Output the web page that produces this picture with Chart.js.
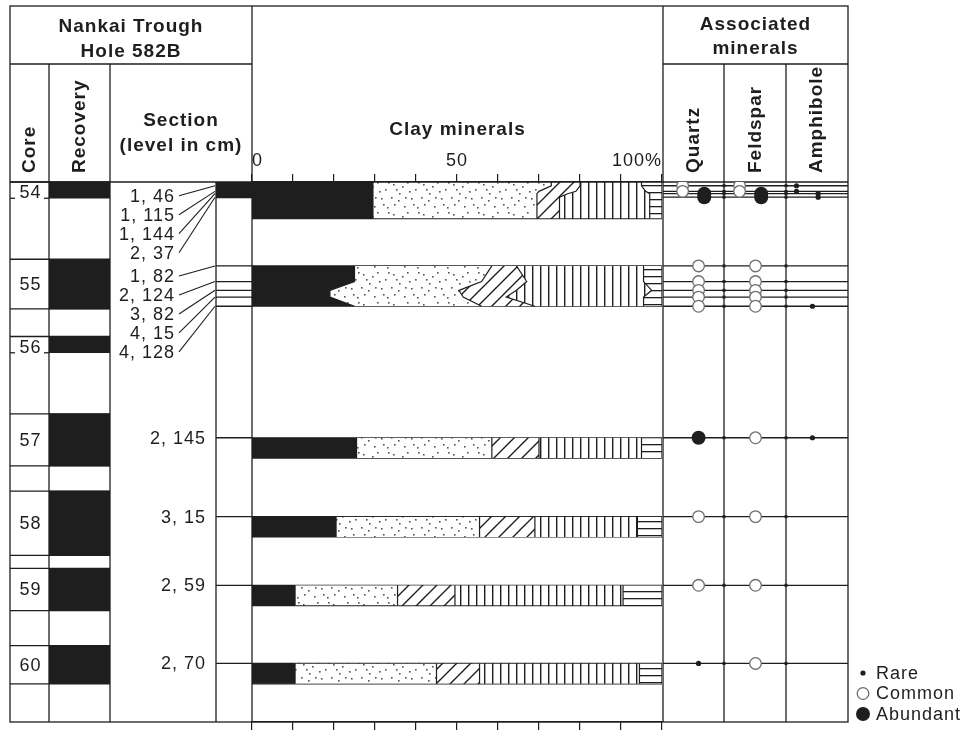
<!DOCTYPE html>
<html>
<head>
<meta charset="utf-8">
<title>Nankai Trough Hole 582B clay minerals</title>
<script src="https://cdn.jsdelivr.net/npm/chart.js@4.4.1/dist/chart.umd.min.js"></script>
<style>
  html, body { margin: 0; padding: 0; background: #fff; }
  #sheet { position: relative; width: 968px; height: 730px; }
  #sheet canvas { position: absolute; top: 0; }
</style>
</head>
<body>
<div id="sheet">
  <canvas id="clayChart" width="968" height="730" style="left:0"></canvas>
  <canvas id="recoveryChart" width="61" height="730" style="left:49px"></canvas>
  <canvas id="mineralChart" width="185" height="730" style="left:663px"></canvas>
</div>
<script>
// cores and recovered length (m)
const CORES = [54, 55, 56, 57, 58, 59, 60];
const RECOVERY_M = [2.0, 6.1, 2.0, 6.4, 7.9, 5.2, 4.7];

// samples: core, section, level in cm
const SAMPLE_CORE = [54, 54, 54, 54, 55, 55, 55, 55, 55, 57, 58, 59, 60];
const SAMPLE_SECTION = [1, 1, 1, 2, 1, 2, 3, 4, 4, 2, 3, 2, 2];
const SAMPLE_CM = [46, 115, 144, 37, 82, 124, 82, 15, 128, 145, 15, 59, 70];

// clay minerals (%), in drawing order left to right
const SOLID = [29.5, 29.5, 29.5, 29.5, 25, 25, 19, 19, 25, 25.5, 20.5, 10.5, 10.5];
const STIPPLED = [43.5, 40.5, 40, 40, 33.5, 31, 31.5, 32.5, 31, 33, 35, 25, 34.5];
const DIAGONAL = [7, 9, 7.5, 5.5, 6, 11, 14, 10.5, 13, 11.5, 13.5, 14, 10.5];
const VERTICAL = [15, 17, 20, 22, 31, 28.5, 33, 33.5, 26.5, 25, 25, 41, 39];
const HORIZONTAL = [5, 4, 3, 3, 4.5, 4.5, 2.5, 4.5, 4.5, 5, 6, 9.5, 5.5];

// associated minerals
const QUARTZ = ['common', 'common', 'abundant', 'abundant', 'common', 'common', 'common', 'common', 'common', 'abundant', 'common', 'common', 'rare'];
const FELDSPAR = ['common', 'common', 'abundant', 'abundant', 'common', 'common', 'common', 'common', 'common', 'common', 'common', 'common', 'common'];
const AMPHIBOLE = ['rare', 'rare', 'rare', 'rare', null, null, null, null, 'rare', 'rare', null, null, null];

const MINERAL_NAMES = ['Quartz', 'Feldspar', 'Amphibole'];
const CLASSES = ['rare', 'common', 'abundant'];
const CLASS_LABELS = ['Rare', 'Common', 'Abundant'];
const CLAY_TICKS = [0, 50, 100];
const CLAY_LABELS = ['0', '50', '100%'];

// layout
const INK = '#1e1e1e';
const FONT = "'Liberation Sans', Arial, Helvetica, sans-serif";
const X_LEFT = 10, X_CORE = 49, X_REC = 110, X_LEVEL = 216, X_CLAY = 252, X_MIN = 663, X_FELD = 724, X_AMPH = 786, X_RIGHT = 848;
const Y_TOP = 6, Y_HEAD = 64, Y_BODY = 182, Y_BOTTOM = 722;
const CORE_LENGTH = 9.5, SECTION_LENGTH = 1.5, DEPTH_MAX = 66.4;
const BAR_M = 2.5, BAND_MIN_M = 4.5, DENSE_GAP_M = 0.75;

Chart.defaults.font.family = FONT;
Chart.defaults.color = INK;

const coreTop = c => (c - CORES[0]) * CORE_LENGTH;
const depth = i => coreTop(SAMPLE_CORE[i]) + (SAMPLE_SECTION[i] - 1) * SECTION_LENGTH + SAMPLE_CM[i] / 100;

// samples grouped by core; a densely sampled core stands for its whole recovered interval
const groups = [];
SAMPLE_CORE.forEach((c, i) => {
  let g = groups.find(g => g.core === c);
  if (!g) groups.push(g = { core: c, idx: [] });
  g.idx.push(i);
});
groups.forEach(g => {
  g.dense = g.idx.length > 1 && g.idx.every((i, j) => j === 0 || depth(i) - depth(g.idx[j - 1]) < DENSE_GAP_M);
  g.top = g.dense ? coreTop(g.core) : depth(g.idx[0]);
  const last = depth(g.idx[g.idx.length - 1]);
  g.bottom = g.idx.length > 1 ? Math.max(last, g.top + BAND_MIN_M) : g.top + BAR_M;
});

// fill patterns
function makePattern(w, h, draw) {
  const c = document.createElement('canvas');
  c.width = w; c.height = h;
  const g = c.getContext('2d');
  g.fillStyle = '#fff';
  g.fillRect(0, 0, w, h);
  g.fillStyle = INK; g.strokeStyle = INK;
  draw(g, w, h);
  return g.createPattern(c, 'repeat');
}
const stipple = makePattern(30, 30, g => {
  g.fillStyle = '#555';
  [[3, 4], [17, 2], [25, 9], [9, 13], [21, 18], [4, 24], [14, 26], [27, 27], [12, 6], [1, 17],
   [8, 20], [19, 11], [28, 2], [23, 24], [15, 17], [6, 9]]
    .forEach(([x, y]) => g.fillRect(x, y, 1.6, 1.6));
});
const diagonal = makePattern(14, 14, (g, w, h) => {
  g.lineWidth = 1.4;
  g.beginPath();
  g.moveTo(0, h); g.lineTo(w, 0);
  g.moveTo(-w / 2, h / 2); g.lineTo(w / 2, -h / 2);
  g.moveTo(w / 2, h * 1.5); g.lineTo(w * 1.5, h / 2);
  g.stroke();
});
const vertical = makePattern(8, 8, g => g.fillRect(4, 0, 1.4, 8));
const horizontal = makePattern(8, 7, g => g.fillRect(0, 3, 8, 1.3));

const SERIES = [SOLID, STIPPLED, DIAGONAL, VERTICAL, HORIZONTAL];
const FILLS = [INK, stipple, diagonal, vertical, horizontal];
const cum = (i, k) => SERIES.slice(0, k).reduce((s, a) => s + a[i], 0);

function boundary(k) {
  const pts = [];
  groups.forEach(g => {
    const first = g.idx[0], last = g.idx[g.idx.length - 1];
    if (g.top < depth(first) - 0.01) pts.push({ x: cum(first, k), y: g.top });
    g.idx.forEach(i => pts.push({ x: cum(i, k), y: depth(i) }));
    if (g.bottom > depth(last) + 0.01) pts.push({ x: cum(last, k), y: g.bottom });
    pts.push({ x: null, y: g.bottom });
  });
  return pts;
}
function edges() {
  const pts = [];
  groups.forEach(g => {
    [g.top, g.bottom].forEach(d => {
      pts.push({ x: 0, y: d }, { x: 100, y: d }, { x: null, y: d });
    });
  });
  return pts;
}

const clayDatasets = [{ label: 'base', data: boundary(0), fill: false }];
SERIES.forEach((s, k) => clayDatasets.push({
  label: 'clay ' + (k + 1), data: boundary(k + 1), fill: '-1', backgroundColor: FILLS[k]
}));
clayDatasets.push({ label: 'edges', data: edges(), fill: false });

function seg(ctx, x1, y1, x2, y2) {
  ctx.beginPath(); ctx.moveTo(x1, y1); ctx.lineTo(x2, y2); ctx.stroke();
}
function label(ctx, s, x, y, opt = {}) {
  ctx.save();
  ctx.font = (opt.bold ? 'bold ' : '') + (opt.size || 18) + 'px ' + FONT;
  ctx.letterSpacing = '1px';
  ctx.fillStyle = INK;
  ctx.textAlign = opt.align || 'center';
  ctx.textBaseline = 'middle';
  ctx.translate(x, y);
  if (opt.rot) ctx.rotate(opt.rot);
  ctx.fillText(s, 0, 0);
  ctx.restore();
}

const SYMBOL = {
  rare: { r: 2.6, fill: INK, stroke: INK, w: 0 },
  common: { r: 5.8, fill: '#fff', stroke: '#6e6e6e', w: 1.3 },
  abundant: { r: 7, fill: INK, stroke: INK, w: 0 }
};

const sheetPlugin = {
  id: 'sheet',
  beforeDraw(chart) { chart.ctx.letterSpacing = '1px'; },
  afterDraw(chart) {
    const ctx = chart.ctx;
    const Y = v => chart.scales.y.getPixelForValue(v);
    ctx.save();
    ctx.strokeStyle = INK; ctx.fillStyle = INK; ctx.lineWidth = 1.3;

    // frame
    ctx.strokeRect(X_LEFT, Y_TOP, X_RIGHT - X_LEFT, Y_BOTTOM - Y_TOP);
    seg(ctx, X_LEFT, Y_HEAD, X_CLAY, Y_HEAD);
    seg(ctx, X_MIN, Y_HEAD, X_RIGHT, Y_HEAD);
    seg(ctx, X_LEFT, Y_BODY, X_RIGHT, Y_BODY);
    [X_CORE, X_REC].forEach(x => seg(ctx, x, Y_HEAD, x, Y_BOTTOM));
    seg(ctx, X_LEVEL, Y_BODY, X_LEVEL, Y_BOTTOM);
    [X_CLAY, X_MIN].forEach(x => seg(ctx, x, Y_TOP, x, Y_BOTTOM));
    [X_FELD, X_AMPH].forEach(x => seg(ctx, x, Y_HEAD, x, Y_BOTTOM));

    // headers
    label(ctx, 'Nankai Trough', (X_LEFT + X_CLAY) / 2, 27, { bold: true, size: 19 });
    label(ctx, 'Hole 582B', (X_LEFT + X_CLAY) / 2, 52, { bold: true, size: 19 });
    label(ctx, 'Core', (X_LEFT + X_CORE) / 2, 173, { bold: true, size: 19, align: 'left', rot: -Math.PI / 2 });
    label(ctx, 'Recovery', (X_CORE + X_REC) / 2, 173, { bold: true, size: 19, align: 'left', rot: -Math.PI / 2 });
    label(ctx, 'Section', 181, 121, { bold: true, size: 19 });
    label(ctx, '(level in cm)', 181, 146, { bold: true, size: 19 });
    label(ctx, 'Clay minerals', (X_CLAY + X_MIN) / 2, 130, { bold: true, size: 19 });
    label(ctx, 'Associated', (X_MIN + X_RIGHT) / 2, 25, { bold: true, size: 19 });
    label(ctx, 'minerals', (X_MIN + X_RIGHT) / 2, 49, { bold: true, size: 19 });
    const colW = (X_RIGHT - X_MIN) / MINERAL_NAMES.length;
    MINERAL_NAMES.forEach((m, j) => label(ctx, m, X_MIN + colW * (j + 0.5), 173,
      { bold: true, size: 19, align: 'left', rot: -Math.PI / 2 }));

    // core column
    CORES.forEach((c, i) => {
      const top = Y(coreTop(c)), bot = Y(coreTop(c) + RECOVERY_M[i]);
      seg(ctx, X_LEFT, top, X_REC, top);
      if (RECOVERY_M[i] > 3) {
        seg(ctx, X_LEFT, bot, X_REC, bot);
        label(ctx, String(c), (X_LEFT + X_CORE) / 2 + 1, (top + bot) / 2 + 1);
      } else {
        seg(ctx, X_LEFT, bot, X_LEFT + 5, bot);
        seg(ctx, X_CORE - 5, bot, X_CORE, bot);
        label(ctx, String(c), (X_LEFT + X_CORE) / 2 + 1, (top + bot) / 2 + 3);
      }
    });

    // sample levels, section labels and leaders
    groups.forEach(g => {
      const ys = g.idx.map(i => Y(depth(i)));
      if (g.dense) {
        const rec = RECOVERY_M[CORES.indexOf(g.core)];
        const t = Y(coreTop(g.core)), b = Y(coreTop(g.core) + rec);
        ctx.fillRect(X_LEVEL, t, X_CLAY - X_LEVEL, b - t);
      } else {
        ys.forEach(y => seg(ctx, X_LEVEL, y, X_CLAY, y));
      }
      g.idx.forEach((i, j) => {
        const txt = SAMPLE_SECTION[i] + ', ' + SAMPLE_CM[i];
        if (g.idx.length === 1) {
          label(ctx, txt, 206, ys[j] + 1, { align: 'right' });
        } else {
          const ty = ys[0] + 10 + 19 * j;
          label(ctx, txt, 175, ty + 1, { align: 'right' });
          ctx.lineWidth = 1.1;
          seg(ctx, 179, ty, X_LEVEL - 1, ys[j]);
          ctx.lineWidth = 1.3;
        }
      });
      ys.forEach(y => {
        seg(ctx, X_MIN, y, X_RIGHT, y);
        [X_FELD, X_AMPH].forEach(x => ctx.fillRect(x - 1.5, y - 1.5, 3, 3));
      });
    });

    // legend
    CLASSES.forEach((cls, j) => {
      const s = SYMBOL[cls], cy = 673 + 20.5 * j;
      ctx.beginPath();
      ctx.arc(863, cy, s.r, 0, Math.PI * 2);
      ctx.fillStyle = s.fill; ctx.fill();
      if (s.w) { ctx.lineWidth = s.w; ctx.strokeStyle = s.stroke; ctx.stroke(); }
      label(ctx, CLASS_LABELS[j], 876, cy + 1, { align: 'left' });
    });
    ctx.restore();
  }
};

new Chart(document.getElementById('clayChart'), {
  type: 'line',
  data: { datasets: clayDatasets },
  options: {
    responsive: false, animation: false, events: [],
    indexAxis: 'y',
    layout: { padding: { left: X_CLAY, right: 968 - (X_MIN - 1), top: Y_BODY - 30, bottom: 0 } },
    elements: {
      point: { radius: 0 },
      line: { tension: 0, borderWidth: 1.2, borderColor: INK }
    },
    scales: {
      x: {
        type: 'linear', position: 'top', min: 0, max: 100,
        afterFit: s => { s.height = 30; },
        border: { color: INK, width: 1.3 },
        grid: { drawOnChartArea: false, tickLength: 8, color: INK, lineWidth: 1.2 },
        ticks: {
          stepSize: 10, autoSkip: false, maxRotation: 0, align: 'inner', padding: 2,
          color: INK, font: { size: 18 },
          callback: v => CLAY_TICKS.includes(v) ? CLAY_LABELS[CLAY_TICKS.indexOf(v)] : ''
        }
      },
      x2: {
        type: 'linear', axis: 'x', position: 'bottom', min: 0, max: 100,
        afterFit: s => { s.height = 8; },
        border: { color: INK, width: 1.3 },
        grid: { drawOnChartArea: false, tickLength: 8, color: INK, lineWidth: 1.2 },
        ticks: { stepSize: 10, display: false }
      },
      y: { type: 'linear', min: 0, max: DEPTH_MAX, reverse: true, display: false }
    },
    plugins: { legend: { display: false }, tooltip: { enabled: false } }
  },
  plugins: [sheetPlugin]
});

new Chart(document.getElementById('recoveryChart'), {
  type: 'bar',
  data: {
    labels: ['Recovery'],
    datasets: [{
      label: 'Recovery',
      data: CORES.map((c, i) => ({ x: 'Recovery', y: [coreTop(c), coreTop(c) + RECOVERY_M[i]] })),
      backgroundColor: INK, borderWidth: 0, barPercentage: 1, categoryPercentage: 1
    }]
  },
  options: {
    responsive: false, animation: false, events: [],
    layout: { padding: { top: Y_BODY, bottom: 730 - Y_BOTTOM, left: 0, right: 0 } },
    scales: {
      x: { display: false },
      y: { type: 'linear', min: 0, max: DEPTH_MAX, reverse: true, display: false }
    },
    plugins: { legend: { display: false }, tooltip: { enabled: false } }
  }
});

// in closely spaced sample groups the upper symbols sit left, the lower right
const MINERAL_DATA = [QUARTZ, FELDSPAR, AMPHIBOLE];
function symbols(cls) {
  const pts = [];
  groups.forEach(g => g.idx.forEach((i, j) => {
    const shift = g.dense ? (j < g.idx.length / 2 ? -0.28 : 0.1) : 0;
    MINERAL_DATA.forEach((arr, m) => {
      if (arr[i] === cls) pts.push({ x: m + 0.5 + shift, y: depth(i) });
    });
  }));
  return pts;
}

new Chart(document.getElementById('mineralChart'), {
  type: 'scatter',
  data: {
    datasets: CLASSES.map((cls, j) => ({
      label: CLASS_LABELS[j],
      data: symbols(cls),
      order: cls === 'abundant' ? 0 : (cls === 'rare' ? 1 : 2),
      pointRadius: SYMBOL[cls].r,
      pointBackgroundColor: SYMBOL[cls].fill,
      pointBorderColor: SYMBOL[cls].stroke,
      pointBorderWidth: SYMBOL[cls].w
    }))
  },
  options: {
    responsive: false, animation: false, events: [],
    layout: { padding: { top: Y_BODY, bottom: 730 - Y_BOTTOM, left: 0, right: 0 } },
    scales: {
      x: { type: 'linear', min: 0, max: MINERAL_NAMES.length, display: false },
      y: { type: 'linear', min: 0, max: DEPTH_MAX, reverse: true, display: false }
    },
    plugins: { legend: { display: false }, tooltip: { enabled: false } }
  }
});
</script>
</body>
</html>
